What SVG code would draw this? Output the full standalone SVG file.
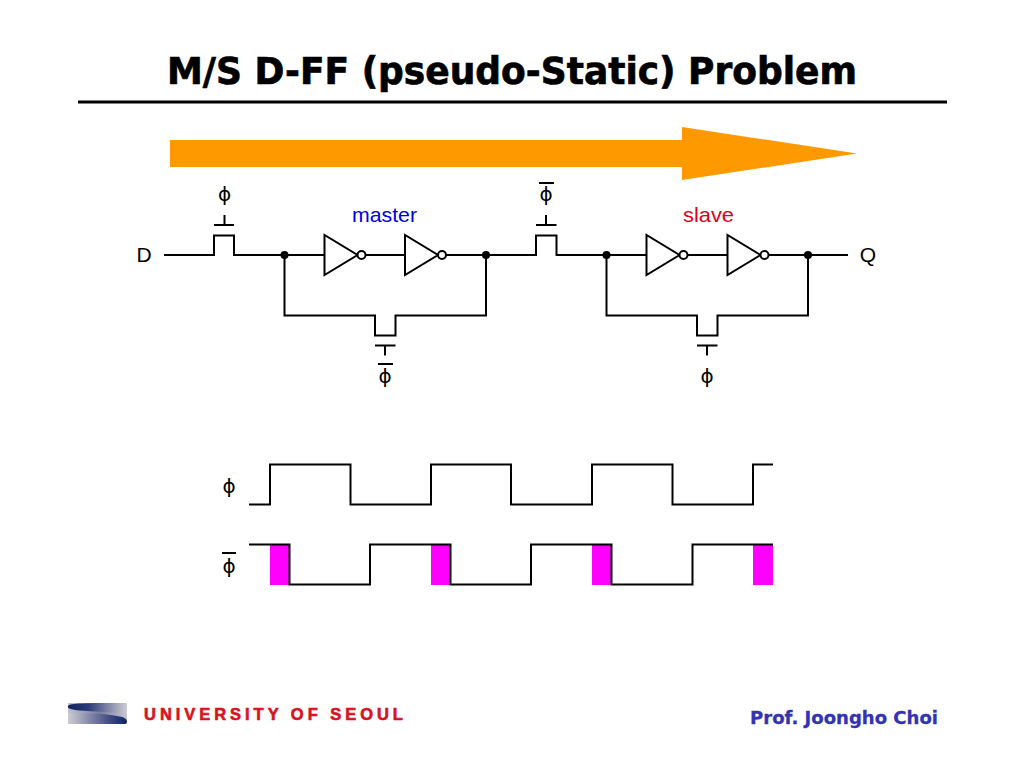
<svg xmlns="http://www.w3.org/2000/svg" width="1024" height="768" viewBox="0 0 1024 768">
<style>
.w{fill:none;stroke:#000;stroke-width:2;stroke-linejoin:miter}
.t{font-family:"Liberation Sans",Arial,sans-serif;fill:#000}
.h{font-family:"DejaVu Sans","Noto Sans",sans-serif;font-weight:bold;fill:#000}
.lbl{font-size:21px;text-anchor:middle}
.phi{font-family:"DejaVu Sans","Liberation Sans",sans-serif;font-size:20px;text-anchor:middle;fill:#000}
.d{fill:#000}
.inv{fill:#fff;stroke:#000;stroke-width:2}
.p{fill:#f0f}
</style>
<defs>
<linearGradient id="g0" x1="0" x2="1" y1="0" y2="0"><stop offset="0" stop-color="#c4c0cc"/><stop offset="0.55" stop-color="#7c7ea4"/><stop offset="1" stop-color="#c8c6d0"/></linearGradient>
<linearGradient id="g1" x1="0" x2="1" y1="0" y2="0"><stop offset="0" stop-color="#0c2460"/><stop offset="0.35" stop-color="#2c3c78"/><stop offset="1" stop-color="#cfcdd4"/></linearGradient>
<linearGradient id="g2" x1="0" x2="1" y1="0" y2="0"><stop offset="0" stop-color="#cfcdd4"/><stop offset="0.65" stop-color="#4a5488"/><stop offset="1" stop-color="#0c2460"/></linearGradient>
<g id="inverter"><path class="inv" d="M0 -20V20L33 0Z"/><circle class="inv" cx="37" cy="0" r="4"/></g>
</defs>
<rect width="1024" height="768" fill="#fff"/>
<g id="title">
<text class="h" x="512" y="84" font-size="37" stroke="#000" stroke-width="0.700" text-anchor="middle" textLength="690" lengthAdjust="spacingAndGlyphs">M/S D-FF (pseudo-Static) Problem</text>
<rect x="78" y="100.500" width="869" height="3" fill="#000"/>
</g>
<g id="arrow"><path d="M170 140H682V127L857 153.500L682 180V167H170Z" fill="#f90"/></g>
<g id="connectors">
<path class="w" d="M164 255H214V235.500H234V255H324"/>
<path class="w" d="M365 255H405M445 255H536V235.500H556.500V255H646"/>
<path class="w" d="M687 255H727M767 255H848"/>
<path class="w" d="M284.500 255V315.500H375V335.500H395.500V315.500H486V255"/>
<path class="w" d="M606.500 255V315.500H697V335.500H717.500V315.500H808V255"/>
<path class="w" d="M214 225H234M224.500 225V215M536 225H556.500M546 225V215M375 345.500H395.500M385 345.500V355.500M697 345.500H717.500M707 345.500V355.500"/>
<path class="w" d="M539 183H554M378 364H393M222 553H236"/>
</g>
<g id="n-dots">
<circle class="d" cx="284.500" cy="255" r="4"/><circle class="d" cx="486" cy="255" r="4"/><circle class="d" cx="606.500" cy="255" r="4"/><circle class="d" cx="808" cy="255" r="4"/>
</g>
<g id="inv1"><use href="#inverter" x="324.500" y="255"/></g>
<g id="inv2"><use href="#inverter" x="405" y="255"/></g>
<g id="inv3"><use href="#inverter" x="646.500" y="255"/></g>
<g id="inv4"><use href="#inverter" x="727.500" y="255"/></g>
<g id="labels">
<text class="t lbl" x="144" y="262">D</text>
<text class="t lbl" x="868" y="262">Q</text>
<text class="t lbl" x="384.500" y="221.500" style="fill:#0000e0" textLength="65" lengthAdjust="spacingAndGlyphs">master</text>
<text class="t lbl" x="708.500" y="221.500" style="fill:#e00020" textLength="51" lengthAdjust="spacingAndGlyphs">slave</text>
<text class="phi" x="224.500" y="201">ϕ</text>
<text class="phi" x="546" y="201">ϕ</text>
<text class="phi" x="385" y="383">ϕ</text>
<text class="phi" x="707" y="383">ϕ</text>
<text class="phi" x="229" y="493">ϕ</text>
<text class="phi" x="229" y="573">ϕ</text>
</g>
<g id="pulses"><rect class="p" x="270" y="545" width="19.500" height="40"/><rect class="p" x="431" y="545" width="19.500" height="40"/><rect class="p" x="592" y="545" width="19.500" height="40"/><rect class="p" x="753" y="545" width="20" height="40"/></g>
<g id="waves">
<path class="w" d="M249 504.500H270V464.500H350.500V504.500H431V464.500H511V504.500H592V464.500H672.500V504.500H753V464.500H773"/>
<path class="w" d="M249 544.500H289.500V584.500H370V544.500H450.500V584.500H531V544.500H611.500V584.500H692.500V544.500H773"/>
</g>
<g id="footer">
<rect x="68" y="703" width="59" height="21" fill="url(#g0)"/>
<path d="M68 706C70 703 85 703 127 703V713C105 712 85 711 75 710C70 709 67 708 68 706Z" fill="url(#g1)"/>
<path d="M68 713C85 713 105 713 122 717C128 719 128 723 125 724H68Z" fill="url(#g2)"/>
<text class="t" x="144" y="719.500" font-size="16.500" font-weight="900" stroke="#d8121f" stroke-width="0.600" letter-spacing="4.100" style="fill:#d8121f" textLength="263">UNIVERSITY OF SEOUL</text>
<text class="h" x="750" y="723.500" font-size="18.500" stroke="#3333b3" stroke-width="0.300" style="fill:#3333b3" textLength="188" lengthAdjust="spacingAndGlyphs">Prof. Joongho Choi</text>
</g>
</svg>
